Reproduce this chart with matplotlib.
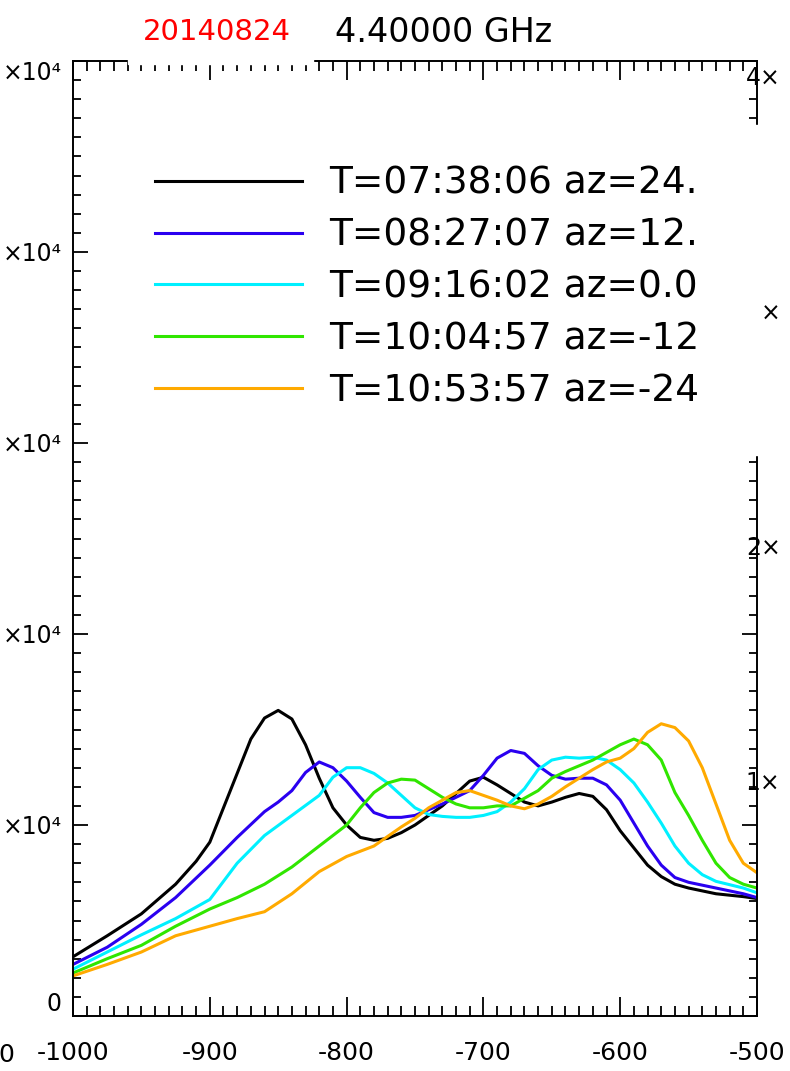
import matplotlib
matplotlib.use("Agg")
import matplotlib.pyplot as plt
from matplotlib.ticker import MultipleLocator
from matplotlib.patches import Rectangle

plt.rcParams['font.family'] = ['DejaVu Sans']
plt.rcParams['axes.unicode_minus'] = False

# ---------------- data (x in arcsec, y in units of 1e4) ----------------
x_black = [-1000, -975, -950, -925, -910, -900, -890, -880, -870, -860, -850, -840, -830, -820, -810,
           -800, -790, -780, -770, -760, -750, -740, -730, -720, -710, -700, -690, -680, -670,
           -660, -650, -640, -630, -620, -610, -600, -590, -580, -570, -560, -550, -530, -510, -500]
y_black = [0.31, 0.42, 0.535, 0.69, 0.81, 0.91, 1.09, 1.27, 1.45, 1.56, 1.60, 1.555, 1.42, 1.245, 1.09,
           1.00, 0.935, 0.92, 0.93, 0.96, 1.00, 1.05, 1.10, 1.165, 1.23, 1.25, 1.21, 1.165, 1.12,
           1.10, 1.12, 1.145, 1.165, 1.15, 1.08, 0.97, 0.88, 0.79, 0.73, 0.69, 0.67, 0.64, 0.625, 0.615]

x_blue = [-1000, -975, -950, -925, -900, -880, -860, -850, -840, -830, -820, -810, -800, -790,
          -780, -770, -760, -750, -740, -730, -720, -710, -700, -690, -680, -670, -660, -650,
          -640, -630, -620, -610, -600, -590, -580, -570, -560, -550, -530, -510, -500]
y_blue = [0.27, 0.36, 0.48, 0.62, 0.79, 0.935, 1.07, 1.12, 1.18, 1.275, 1.33, 1.30, 1.23, 1.145,
          1.065, 1.04, 1.04, 1.05, 1.08, 1.11, 1.145, 1.18, 1.26, 1.35, 1.39, 1.375, 1.31, 1.26,
          1.24, 1.245, 1.245, 1.21, 1.13, 1.01, 0.89, 0.79, 0.725, 0.70, 0.67, 0.64, 0.62]

x_cyan = [-1000, -975, -950, -925, -900, -880, -860, -840, -820, -810, -800, -790, -780, -770,
          -760, -750, -740, -730, -720, -710, -700, -690, -680, -670, -660, -650, -640, -630,
          -620, -610, -600, -590, -580, -570, -560, -550, -540, -530, -510, -500]
y_cyan = [0.245, 0.335, 0.425, 0.51, 0.61, 0.80, 0.945, 1.05, 1.155, 1.25, 1.30, 1.30, 1.27, 1.22,
          1.155, 1.09, 1.055, 1.045, 1.04, 1.04, 1.05, 1.07, 1.12, 1.19, 1.29, 1.34, 1.355, 1.35,
          1.355, 1.34, 1.29, 1.22, 1.12, 1.01, 0.89, 0.80, 0.74, 0.705, 0.67, 0.645]

x_green = [-1000, -975, -950, -925, -900, -880, -860, -840, -820, -800, -790, -780, -770, -760,
           -750, -740, -730, -720, -710, -700, -690, -680, -670, -660, -650, -640, -630, -620,
           -610, -600, -590, -580, -570, -560, -550, -540, -530, -520, -510, -500]
y_green = [0.225, 0.30, 0.37, 0.47, 0.56, 0.62, 0.69, 0.78, 0.89, 1.00, 1.09, 1.17, 1.22, 1.24,
           1.235, 1.19, 1.145, 1.11, 1.09, 1.09, 1.10, 1.10, 1.14, 1.18, 1.245, 1.28, 1.31, 1.34,
           1.38, 1.42, 1.45, 1.42, 1.34, 1.17, 1.05, 0.92, 0.80, 0.725, 0.69, 0.67]

x_orange = [-1000, -975, -950, -925, -900, -880, -860, -840, -820, -800, -780, -760, -750, -740,
            -730, -720, -710, -700, -690, -680, -670, -660, -650, -640, -630, -620, -610, -600,
            -590, -580, -570, -560, -550, -540, -530, -520, -510, -500]
y_orange = [0.21, 0.27, 0.335, 0.42, 0.47, 0.51, 0.546, 0.64, 0.756, 0.835, 0.89, 0.99, 1.035, 1.09,
            1.13, 1.17, 1.18, 1.155, 1.13, 1.10, 1.085, 1.11, 1.15, 1.20, 1.245, 1.29, 1.33, 1.35,
            1.40, 1.485, 1.53, 1.51, 1.44, 1.30, 1.11, 0.92, 0.80, 0.75]

labels = ["T=07:38:06 az=24.", "T=08:27:07 az=12.", "T=09:16:02 az=0.0",
          "T=10:04:57 az=-12", "T=10:53:57 az=-24"]
colors = ["black", "#2a00f0", "#00f0ff", "#30e600", "#ffaa00"]

y_ticks = [0, 1, 2, 3, 4, 5]
y_ticklabels = ["0", "×10⁴", "×10⁴", "×10⁴", "×10⁴", "×10⁴"]
x_ticks = [-1000, -900, -800, -700, -600, -500]
r_ticks = [1, 2, 3, 4]
r_ticklabels = ["1×", "2×", "  ×", "4×"]

# ---------------- figure ----------------
W, H = 790, 1071
fig = plt.figure(figsize=(W / 100, H / 100), dpi=100)
L, R, T, B = 73, 757, 61, 1016
ax = fig.add_axes([L / W, 1 - B / H, (R - L) / W, (B - T) / H])

series = [(x_black, y_black), (x_blue, y_blue), (x_cyan, y_cyan),
          (x_green, y_green), (x_orange, y_orange)]
for (xs, ys), c, lab in zip(series, colors, labels):
    ax.plot(xs, ys, color=c, lw=2.2, label=lab)

ax.set_xlim(-1000, -500)
ax.set_ylim(0, 5)

# secondary overlapping axis labels at right
ax2 = ax.twinx()
ax2.set_ylim(0, 4.06)
ax2.set_yticks(r_ticks, r_ticklabels)
ax2.tick_params(axis='y', length=0, labelsize=17, pad=-8)
for sp in ax2.spines.values():
    sp.set_visible(False)

ax.set_xticks(x_ticks)
ax.xaxis.set_minor_locator(MultipleLocator(10))
ax.set_yticks(y_ticks, y_ticklabels)
ax.yaxis.set_minor_locator(MultipleLocator(0.1))
for sp in ax.spines.values():
    sp.set_linewidth(1.4)
ax.tick_params(which='both', direction='in', top=True, right=True, left=True, bottom=True,
               labelright=False, labeltop=False, width=1.3, color='black')
ax.tick_params(axis='x', which='major', length=14, labelsize=18, pad=18)
ax.tick_params(axis='x', which='minor', length=7.5)
ax.tick_params(axis='y', which='major', length=10.5, labelsize=17, pad=8)
ax.tick_params(axis='y', which='minor', length=6)
for t, v in zip(ax.get_yticklabels(), y_ticks):
    if v == 0:
        t.set_va('bottom')
    elif v == 5:
        t.set_va('top')

leg = ax.legend(loc='upper left', bbox_to_anchor=(155 / W, 1 - 166 / H),
                bbox_transform=fig.transFigure, frameon=False, fontsize=27,
                handlelength=3.92, handletextpad=0.72, labelspacing=0.42,
                borderpad=0, borderaxespad=0)
for line in leg.get_lines():
    line.set_linewidth(2.2)

# erased parts of the frame (overlapping-plot artefacts)
fig.add_artist(Rectangle((736 / W, 1 - 455 / H), (762 - 736) / W, (455 - 125) / H,
                         transform=fig.transFigure, color='white', zorder=10))
fig.add_artist(Rectangle((128 / W, 1 - 63.5 / H), (313 - 128) / W, 6 / H,
                         transform=fig.transFigure, color='white', zorder=10))

# header and clipped label
fig.text(143 / W, 1 - 32 / H, "20140824", color='red', fontsize=21, va='center')
fig.text(335 / W, 1 - 32 / H, "4.40000 GHz", color='black', fontsize=24, va='center')
fig.text(14 / W, 1 - 1055 / H, "0", ha='right', va='center', fontsize=18)

fig.savefig("out.png", dpi=100)
